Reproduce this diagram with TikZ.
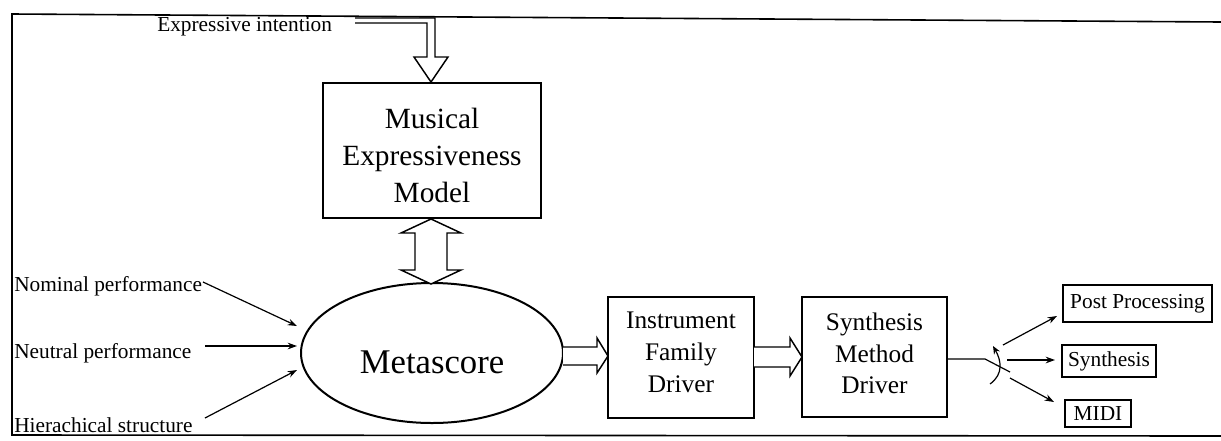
\documentclass[tikz,border=0pt]{standalone}
\usepackage{fontspec}
\setmainfont{Liberation Serif}
\usetikzlibrary{arrows.meta,shapes.geometric}
\begin{document}
\begin{tikzpicture}[x=0.75pt,y=-0.75pt,
  framel/.style={line width=1.2pt},
  bigbox/.style={draw,line width=1.5pt,inner sep=0pt},
  drvbox/.style={draw,line width=1pt,inner sep=0pt},
  outbox/.style={draw,line width=0.9pt,inner sep=0pt,font=\fontsize{16}{19}\selectfont},
  lbl/.style={inner sep=0pt,font=\fontsize{16}{19}\selectfont},
  hollow/.style={draw,line width=1.1pt,line join=miter,fill=white},
  arr/.style={line width=0.9pt,-{Stealth[length=7pt,width=5pt]}},
]
\useasboundingbox (0,0) rectangle (1221,440);
% frame
\draw[framel] (1221,22) -- (12,14) -- (12,435) -- (1221,436);

% Musical Expressiveness Model
\node[bigbox,minimum width=163.5pt,minimum height=101.25pt] (mem) at (432,150.5) {};
\node[inner sep=0pt,anchor=north,align=center,font=\fontsize{22}{27.75}\selectfont] (memt) at (432,108) {Musical\\Expressiveness\\Model};

% Metascore
\node[draw,ellipse,line width=1.5pt,minimum width=196.5pt,minimum height=105pt,inner sep=0pt] (ms) at (432,353) {};
\node[inner sep=0pt,anchor=base,font=\fontsize{26}{30}\selectfont] (mst) at (432,373) {Metascore};

% drivers
\node[drvbox,minimum width=109.5pt,minimum height=90.75pt] (ifd) at (681,357.5) {};
\node[inner sep=0pt,anchor=north,align=center,font=\fontsize{19}{24}\selectfont] (ifdt) at (681,311.5) {Instrument\\Family\\Driver};
\node[drvbox,minimum width=108.75pt,minimum height=90pt] (smd) at (874.5,357) {};
\node[inner sep=0pt,anchor=north,align=center,font=\fontsize{19}{23.5}\selectfont] (smdt) at (874.5,313) {Synthesis\\Method\\Driver};

% outputs
\node[outbox,minimum width=111.75pt,minimum height=27.75pt] (pp) at (1137.5,303.5) {Post Processing};
\node[outbox,minimum width=70.5pt,minimum height=24pt] (syn) at (1109,361) {Synthesis};
\node[outbox,minimum width=49.5pt,minimum height=20.25pt] (midi) at (1098,413.5) {MIDI};

% labels
\node[lbl,anchor=base west] (ei) at (157,31) {Expressive intention};
\node[lbl,anchor=base west] (nom) at (14,291) {Nominal performance};
\node[lbl,anchor=base west] (neu) at (14,358) {Neutral performance};
\node[lbl,anchor=base west] (hie) at (14,432) {Hierachical structure};

% hollow arrows
\draw[hollow] (355,18) -- (435,18) -- (435,57) -- (448,57) -- (431,82) -- (414,57) -- (427,57) -- (427,23) -- (355,23);
\draw[hollow] (431,219) -- (461,233) -- (447,233) -- (447,270) -- (461,270) -- (431,284) -- (401,270) -- (415,270) -- (415,233) -- (401,233) -- cycle;
\draw[hollow] (563,347) -- (597,347) -- (597,338) -- (608,356) -- (597,373) -- (597,365) -- (563,365);
\draw[hollow] (754,347) -- (790,347) -- (790,338) -- (802,357) -- (790,376) -- (790,367) -- (754,367);

% input arrows
\coordinate (nomT) at (203,282);
\coordinate (neuT) at (205,346);
\coordinate (hieT) at (205,418);
\coordinate (nomH) at (297,326);
\coordinate (neuH) at (297,346);
\coordinate (hieH) at (297,370);
\draw[arr] (nomT) -- (nomH);
\draw[arr] (neuT) -- (neuH);
\draw[arr] (hieT) -- (hieH);

% switch
\coordinate (swA) at (985,359);
\coordinate (swB) at (1010,372);
\draw[line width=0.9pt] (smd.east |- swA) -- (swA) -- (swB);
\draw[line width=0.9pt,-{Stealth[length=6pt,width=5pt]}] (990,384) .. controls (1004,374) and (1001,360) .. (993,346);

\coordinate (o1) at (1003,345);
\coordinate (o2) at (1007,360);
\coordinate (o3) at (1010,378);
\coordinate (o1H) at (1057,316);
\coordinate (o2H) at (1055,360);
\coordinate (o3H) at (1054,402);
\draw[arr] (o1) -- (o1H);
\draw[arr] (o2) -- (o2H);
\draw[arr] (o3) -- (o3H);
\end{tikzpicture}
\end{document}
